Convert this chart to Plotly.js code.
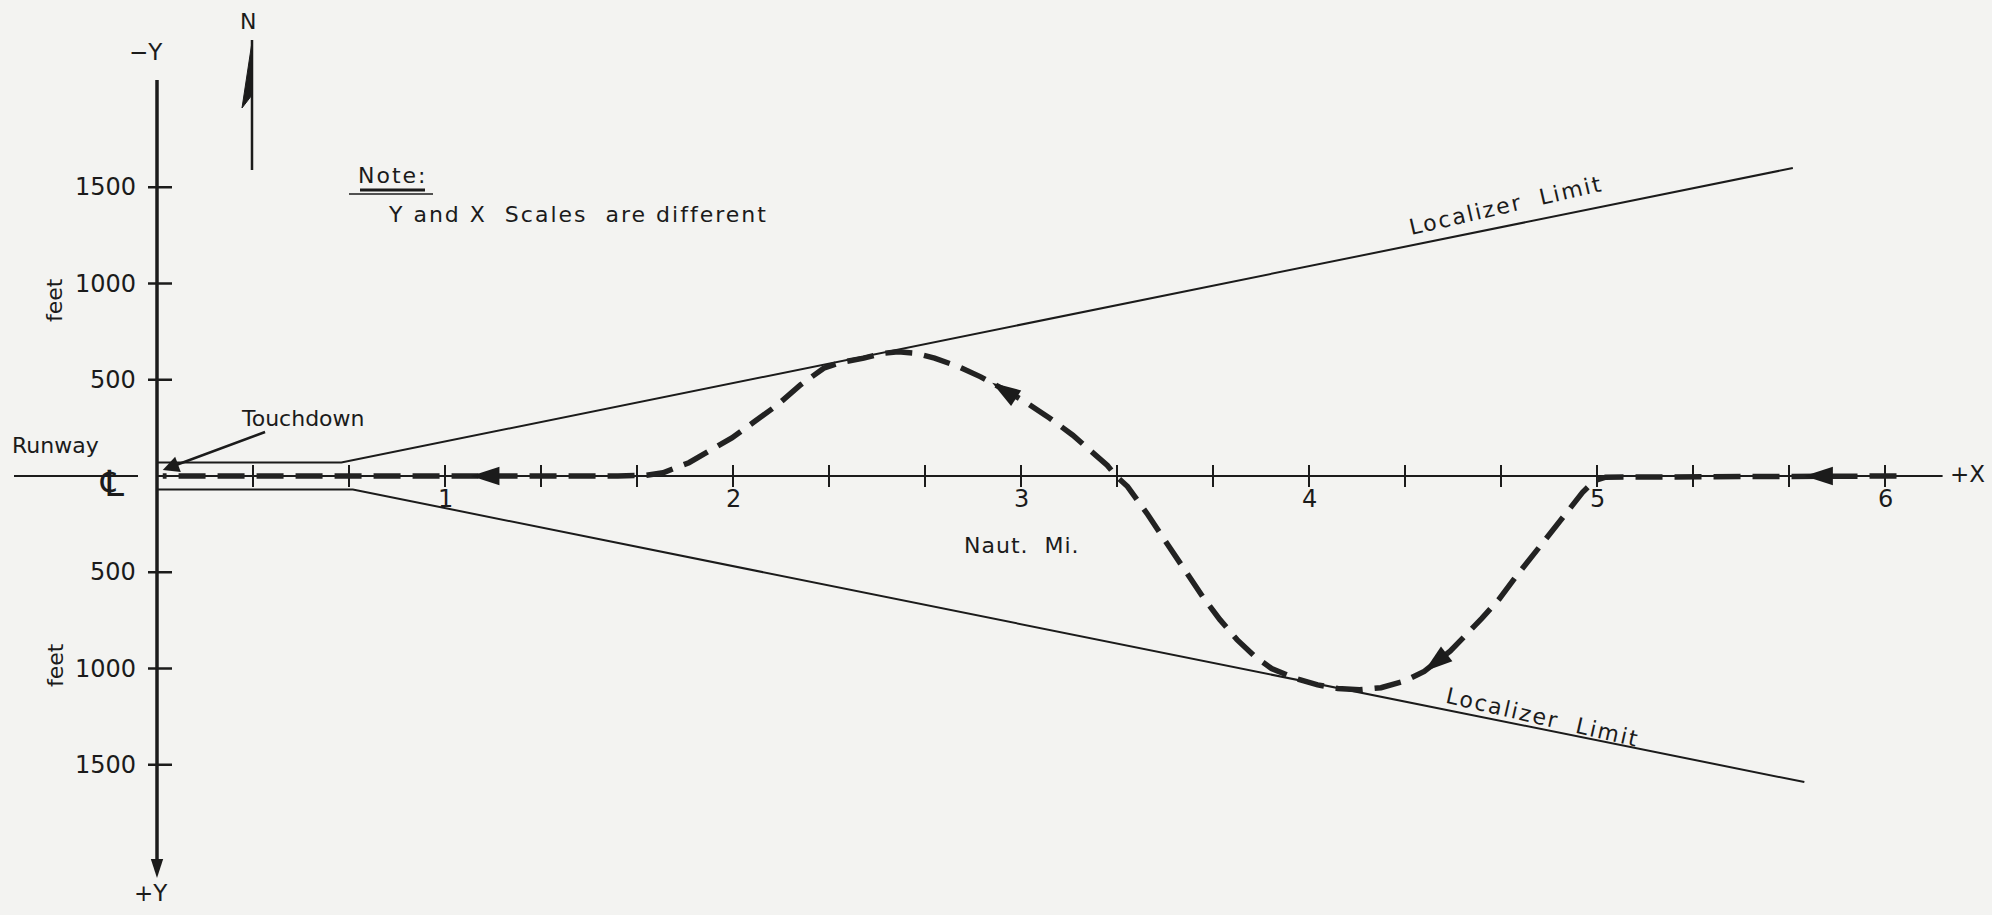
<!DOCTYPE html>
<html>
<head>
<meta charset="utf-8">
<script src="https://cdn.plot.ly/plotly-3.0.1.min.js"></script>
<style>
  html, body { margin: 0; padding: 0; background: #f3f3f1; }
  #chart { width: 1992px; height: 915px; }
</style>
</head>
<body>
<div id="chart"></div>
<script>
// Lateral deviation of an approach track relative to the localizer course.
// x: distance from touchdown (nautical miles), y: lateral offset in feet
// (+Y is south, drawn downward; -Y is north, drawn upward).

// Flight track, flown from the right toward touchdown
const trackNm = [6.04, 5.60, 5.20, 5.08, 5.03, 4.99, 4.95, 4.90, 4.84, 4.78, 4.72, 4.66, 4.60,
  4.49, 4.40, 4.33, 4.25, 4.175, 4.10, 4.03, 3.95, 3.87, 3.81, 3.75, 3.69, 3.63, 3.57,
  3.50, 3.44, 3.37, 3.33, 3.30, 3.25, 3.18, 3.10, 3.02, 2.94, 2.86, 2.78, 2.70, 2.633,
  2.574, 2.514, 2.454, 2.375, 2.315, 2.235, 2.155, 2.076, 1.996, 1.916, 1.847, 1.757,
  1.70, 1.60, 0.02];
const trackFt = [0, 0, 0, 0, 6, 25, 85, 180, 290, 400, 520, 640, 740,
  910, 1015, 1066, 1100, 1110, 1104, 1085, 1050, 1000, 935, 850, 745, 625, 495,
  335, 200, 55, 0, -55, -120, -212, -300, -380, -450, -515, -570, -612, -638,
  -645, -636, -612, -590, -560, -474, -370, -284, -198, -129, -69, -17,
  -4, 0, 0];

// Direction arrows along the track
const arrowNm = [1.09, 2.90, 4.40, 5.72];
const arrowFt = [0, -485, 1015, 0];
const arrowAngle = [-90, -57, -128, -90];

// Localizer limits (runway edge out to the course-width limit)
const locUpperNm = [0, 0.64, 5.68];
const locUpperFt = [-70, -70, -1600];
const locLowerNm = [0, 0.68, 5.72];
const locLowerFt = [70, 70, 1590];

// Axis ticks
const xTickNm = [1/3, 2/3, 1, 4/3, 5/3, 2, 7/3, 8/3, 3, 10/3, 11/3, 4, 13/3, 14/3, 5, 16/3, 17/3, 6];
const xLabelNm = [1, 2, 3, 4, 5, 6];
const xLabelText = ['1', '2', '3', '4', '5', '6'];
const yTickFt = [-1500, -1000, -500, 500, 1000, 1500];
const yTickText = ['1500', '1000', '500', '500', '1000', '1500'];

// Axis extents
const yAxisTopFt = -2057;
const yAxisTipFt = 2088;
const xAxisEndNm = 6.2;

// ---- page geometry ----
const W = 1992, H = 915;
const X0PX = 157, NM_PX = 288;     // x origin and pixels per nautical mile
const Y0PX = 476, FT_PX = 0.1925;  // y origin and pixels per foot
const dNm = px => px / NM_PX;
const dFt = px => px / FT_PX;
const px2x = px => px / W;          // paper fraction from page pixel
const py2y = py => 1 - py / H;

const INK = '#1b1b1b';
const FONT = 'DejaVu Sans';
const sp = (s, ls) => '<span style="letter-spacing:' + ls + 'px">' + s + '</span>';

// segment builders for tick marks
function xTickSegs(vals, upPx, downPx) {
  const xs = [], ys = [];
  vals.forEach(v => { xs.push(v, v, null); ys.push(-dFt(upPx), dFt(downPx), null); });
  return {xs, ys};
}
function yTickSegs(vals, leftPx, rightPx) {
  const xs = [], ys = [];
  vals.forEach(v => { xs.push(-dNm(leftPx), dNm(rightPx), null); ys.push(v, v, null); });
  return {xs, ys};
}

const xt = xTickSegs(xTickNm, 11, 11);
const yt = yTickSegs(yTickFt, 9, 15);

const traces = [
  // x axis (course centerline)
  {x: [0, xAxisEndNm], y: [0, 0], mode: 'lines', line: {color: INK, width: 2}, hoverinfo: 'skip'},
  // runway centerline stub left of the y axis
  {x: [-dNm(143), -dNm(19)], y: [0, 0], mode: 'lines', line: {color: INK, width: 2}, hoverinfo: 'skip'},
  // x ticks
  {x: xt.xs, y: xt.ys, mode: 'lines', line: {color: INK, width: 2}, hoverinfo: 'skip'},
  // y axis
  {x: [0, 0], y: [yAxisTopFt, yAxisTipFt - dFt(12)], mode: 'lines', line: {color: INK, width: 3.5}, hoverinfo: 'skip'},
  // y ticks
  {x: yt.xs, y: yt.ys, mode: 'lines', line: {color: INK, width: 2.5}, hoverinfo: 'skip'},
  // y axis arrow
  {x: [0], y: [yAxisTipFt], mode: 'markers',
   marker: {symbol: 'arrow', size: 20, angle: 180, color: INK, line: {width: 0}}, hoverinfo: 'skip'},
  // localizer limits
  {x: locUpperNm, y: locUpperFt, mode: 'lines', line: {color: INK, width: 2}, hoverinfo: 'skip'},
  {x: locLowerNm, y: locLowerFt, mode: 'lines', line: {color: INK, width: 2}, hoverinfo: 'skip'},
  // flight track
  {x: trackNm, y: trackFt, mode: 'lines', line: {color: '#222', width: 5.5, dash: '27px,12px'}, hoverinfo: 'skip'},
  // direction arrows
  {x: arrowNm, y: arrowFt, mode: 'markers',
   marker: {symbol: 'arrow', size: 30, angle: arrowAngle, color: INK, line: {width: 0}}, hoverinfo: 'skip'}
];

const annotations = [];
// x tick labels
xLabelNm.forEach((v, i) => annotations.push({
  x: v, y: dFt(23), xref: 'x', yref: 'y', text: xLabelText[i], showarrow: false,
  xanchor: 'center', yanchor: 'middle',
  font: {family: FONT, size: 24, color: INK}
}));
// y tick labels
yTickFt.forEach((v, i) => annotations.push({
  x: -dNm(19), y: v, xref: 'x', yref: 'y', text: yTickText[i], showarrow: false,
  xanchor: 'right', yanchor: 'middle',
  font: {family: FONT, size: 24, color: INK}
}));

function label(text, xpx, ypx, size, extra) {
  return Object.assign({
    x: px2x(xpx), y: py2y(ypx), xref: 'paper', yref: 'paper', text: text, showarrow: false,
    xanchor: 'center', yanchor: 'middle',
    font: {family: FONT, size: size, color: INK}
  }, extra || {});
}

annotations.push(
  label('\u2212Y', 146, 52, 23),
  label('+Y', 151, 893, 23),
  label('+X', 1967, 474, 23),
  label('N', 248, 22, 22),
  label('Runway', 55, 445, 22),
  label('\u2104', 112, 483, 36),
  label('feet', 55, 300, 22, {textangle: -90}),
  label('feet', 55, 665, 22, {textangle: -90}),
  label(sp('Note:', 2), 393, 175, 22),
  label(sp('Y and X&nbsp; Scales&nbsp; are different', 2), 578, 214, 22),
  label(sp('Localizer&nbsp; Limit', 2), 1506, 205, 22, {textangle: -13}),
  label(sp('Localizer&nbsp; Limit', 2), 1543, 717, 22, {textangle: 13}),
  label(sp('Naut.&nbsp; Mi.', 1), 1022, 545, 22),
  // touchdown callout
  {x: 0.02, y: -dFt(6), xref: 'x', yref: 'y', ax: 140, ay: -52, axref: 'pixel', ayref: 'pixel',
   text: 'Touchdown', showarrow: true, arrowhead: 2, arrowsize: 1.3, arrowwidth: 2.5, arrowcolor: INK,
   font: {family: FONT, size: 22, color: INK}}
);

const shapes = [
  // double underline under "Note:"
  {type: 'line', xref: 'paper', yref: 'paper', x0: px2x(360), x1: px2x(425), y0: py2y(190), y1: py2y(190),
   line: {color: INK, width: 3}},
  {type: 'line', xref: 'paper', yref: 'paper', x0: px2x(349), x1: px2x(433), y0: py2y(194), y1: py2y(194),
   line: {color: INK, width: 1.5}},
  // north arrow
  {type: 'line', xref: 'paper', yref: 'paper', x0: px2x(252), x1: px2x(252), y0: py2y(40), y1: py2y(170),
   line: {color: INK, width: 2.5}},
  {type: 'path', xref: 'paper', yref: 'paper',
   path: 'M' + px2x(252) + ',' + py2y(42) + ' L' + px2x(242) + ',' + py2y(108) +
         ' L' + px2x(252) + ',' + py2y(95) + ' Z',
   fillcolor: INK, line: {color: INK, width: 1}}
];

const layout = {
  width: W, height: H,
  margin: {l: 0, r: 0, t: 0, b: 0, pad: 0},
  paper_bgcolor: '#f3f3f1', plot_bgcolor: '#f3f3f1',
  showlegend: false,
  xaxis: {visible: false, range: [-X0PX / NM_PX, (W - X0PX) / NM_PX], fixedrange: true},
  yaxis: {visible: false, range: [(H - Y0PX) / FT_PX, -Y0PX / FT_PX], fixedrange: true},
  annotations: annotations,
  shapes: shapes
};

Plotly.newPlot('chart', traces, layout, {staticPlot: true, displayModeBar: false});
</script>
</body>
</html>
